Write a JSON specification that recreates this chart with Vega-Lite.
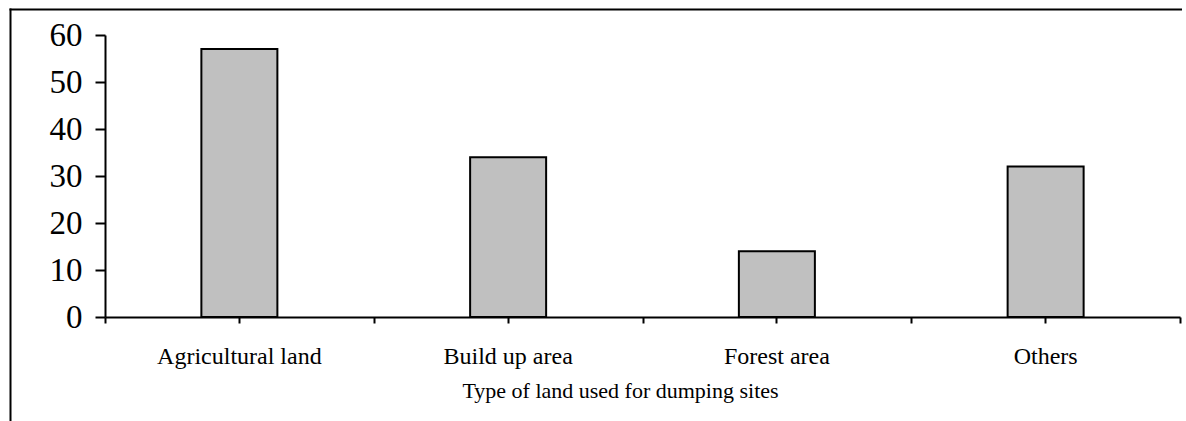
{
  "$schema": "https://vega.github.io/schema/vega-lite/v6.json",
  "width": 1172,
  "height": 412,
  "autosize": {"type": "none"},
  "padding": {"left": 10, "top": 9, "right": 0, "bottom": 0},
  "background": "white",
  "config": {
    "view": {"stroke": "transparent", "strokeWidth": 0},
    "font": "Liberation Serif",
    "axis": {"grid": false, "domainColor": "black", "tickColor": "black", "labelColor": "black", "titleColor": "black", "labelFont": "Liberation Serif", "titleFont": "Liberation Serif", "titleFontWeight": "normal"}
  },
  "data": {"values": [
    {"land": "Agricultural land", "value": 57},
    {"land": "Build up area", "value": 34},
    {"land": "Forest area", "value": 14},
    {"land": "Others", "value": 32}
  ]},
  "layer": [
    {
      "mark": {"type": "bar", "opacity": 0},
      "encoding": {
        "x": {"field": "land", "type": "nominal", "sort": null,
          "scale": {"paddingInner": 0, "paddingOuter": 0},
          "axis": {"orient": "top", "domain": true, "domainWidth": 2, "domainCap": "square", "ticks": false, "labels": false, "title": null}},
        "y": {"field": "value", "type": "quantitative",
          "scale": {"domain": [0, 60], "nice": false},
          "axis": {"orient": "left", "offset": 0, "domain": true, "domainWidth": 2, "domainCap": "square", "ticks": false, "labels": false, "title": null}}
      }
    },
    {
      "mark": {"type": "bar", "fill": "#c0c0c0", "stroke": "black", "strokeWidth": 2, "size": 76},
      "encoding": {
        "x": {"field": "land", "type": "nominal", "sort": null,
          "scale": {"range": [95, 1170], "paddingInner": 0, "paddingOuter": 0},
          "axis": {"orient": "bottom", "offset": -104, "labels": false, "title": null, "tickBand": "extent", "tickSize": 6, "tickWidth": 2, "domainWidth": 2}},
        "y": {"field": "value", "type": "quantitative",
          "scale": {"domain": [0, 60], "range": [308, 26], "nice": false},
          "axis": {"orient": "left", "offset": -95, "values": [0, 10, 20, 30, 40, 50, 60], "title": null, "tickSize": 10, "tickWidth": 2, "domainWidth": 2, "labelFontSize": 33, "labelPadding": 13}}
      }
    },
    {
      "mark": {"type": "bar", "opacity": 0, "size": 76},
      "encoding": {
        "x": {"field": "land", "type": "nominal", "sort": null,
          "scale": {"range": [95, 1170], "paddingInner": 0, "paddingOuter": 0},
          "axis": {"orient": "bottom", "offset": -104, "domain": false, "tickSize": 6, "tickWidth": 2, "labelFontSize": 24, "labelBaseline": "alphabetic", "labelPadding": 40, "labelAngle": 0,
            "title": "Type of land used for dumping sites", "titleFontSize": 22, "titleBaseline": "alphabetic", "titleY": 80, "titleX": 610, "titleAlign": "center", "titleAnchor": null}},
        "y": {"field": "value", "type": "quantitative",
          "scale": {"domain": [0, 60], "range": [308, 26], "nice": false},
          "axis": null}
      }
    }
  ],
  "resolve": {"scale": {"x": "independent", "y": "independent"}, "axis": {"x": "independent", "y": "independent"}}
}
